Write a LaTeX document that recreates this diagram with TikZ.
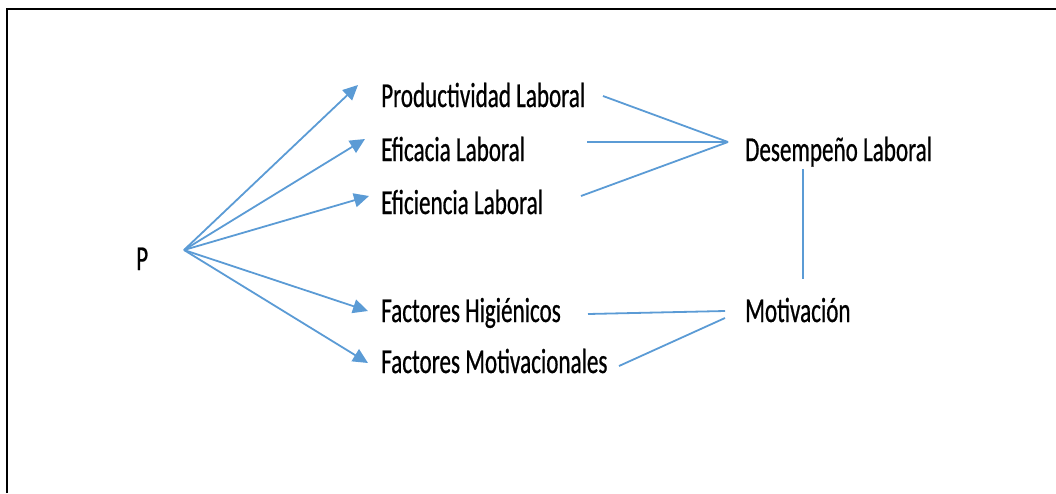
\documentclass[tikz,border=0pt]{standalone}
\usepackage{fontspec}
\setmainfont[FakeStretch=0.66,FakeBold=0.6]{Carlito}
\usetikzlibrary{arrows.meta}
\definecolor{linkblue}{HTML}{5B9BD5}
\tikzset{
  txt/.style={anchor=base west, inner sep=0pt, font=\fontsize{35}{40}\selectfont},
  fanarrow/.style={linkblue, line width=1.8pt, -{Triangle[length=15pt,width=14pt]}},
  joinline/.style={linkblue, line width=1.8pt}
}
\begin{document}
\begin{tikzpicture}[x=1pt,y=-1pt]
        \useasboundingbox (0,0) rectangle (1056,493);
        \draw [line width=2.5pt] (7,493) -- (7,9) -- (1056,9);
        % texts
        \node [txt] (p) at (136,270) {P};
        \node [txt] (prod) at (381,107) {Productividad Laboral};
        \node [txt] (efic) at (381,161) {Eficacia Laboral};
        \node [txt] (efin) at (381,214) {Eficiencia Laboral};
        \node [txt] (hig) at (381,322) {Factores Higiénicos};
        \node [txt] (mot) at (381,373) {Factores Motivacionales};
        \node [txt] (des) at (745,161) {Desempeño Laboral};
        \node [txt] (motiv) at (745,322) {Motivación};
        % ends of the connectors
        \coordinate (fan) at (184,250);
        \coordinate (prodtip) at (358,85);
        \coordinate (efictip) at (365,139);
        \coordinate (efintip) at (369,196);
        \coordinate (higtip) at (368,311);
        \coordinate (mottip) at (368,363);
        \coordinate (prodend) at (603,96);
        \coordinate (efcend) at (587,142);
        \coordinate (efnend) at (581,196);
        \coordinate (desin) at (728,142);
        \coordinate (desout) at (803,169);
        \coordinate (motivin) at (803,279);
        \coordinate (higend) at (588,314);
        \coordinate (motend) at (619,366);
        \coordinate (higin) at (725,311);
        \coordinate (motin) at (725,318);
        % arrows from P
        \foreach \t in {prodtip, efictip, efintip, higtip, mottip}
            \draw [fanarrow] (fan) -- (\t);
        % joins
        \draw [joinline] (prodend) -- (desin);
        \draw [joinline] (efcend) -- (desin);
        \draw [joinline] (efnend) -- (desin);
        \draw [joinline, line width=1.2pt] (desout) -- (motivin);
        \draw [joinline] (higend) -- (higin);
        \draw [joinline] (motend) -- (motin);
    \end{tikzpicture}
\end{document}
